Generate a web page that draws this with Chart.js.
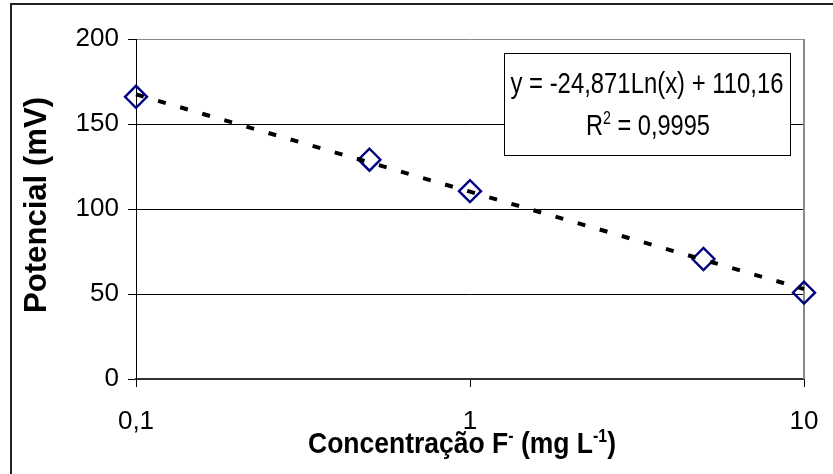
<!DOCTYPE html>
<html>
<head>
<meta charset="utf-8">
<script src="https://cdn.jsdelivr.net/npm/chart.js@4.4.1/dist/chart.umd.min.js"></script>
<style>
  html, body { margin: 0; padding: 0; background: #fff; }
  #wrap { width: 833px; height: 474px; }
</style>
</head>
<body>
<div id="wrap"><canvas id="c" width="833" height="474"></canvas></div>
<script>
// ---- data ----
const concentrations = [0.1, 0.5, 1, 5, 10];          // mg L-1 (F-)
const potentials     = [166, 129, 110.5, 70.6, 50.8]; // mV
const trendX = [0.1, 10];
const trendY = [167.4, 52.9];                         // logarithmic trend line ends
const xTickValues = [0.1, 1, 10];
const yTickValues = [0, 50, 100, 150, 200];
const equationText = "y = -24,871Ln(x) + 110,16";
const r2Text = "0,9995";
const xTitleParts = [{t: "Concentração F"}, {t: "-", sup: true}, {t: " (mg L"}, {t: "-1", sup: true}, {t: ")"}];
const yTitleText = "Potencial (mV)";

const SANS = "'Liberation Sans', Arial, sans-serif";

function drawParts(ctx, parts, size, weight) {
  let x = 0;
  for (const p of parts) {
    const s = p.sup ? Math.round(size * 0.6) : size;
    ctx.font = weight + " " + s + "px " + SANS;
    const w = ctx.measureText(p.t).width;
    ctx.fillText(p.t, x, p.sup ? -size * 0.38 : 0);
    x += w;
  }
  return x;
}
function measureParts(ctx, parts, size, weight) {
  let x = 0;
  for (const p of parts) {
    const s = p.sup ? Math.round(size * 0.6) : size;
    ctx.font = weight + " " + s + "px " + SANS;
    x += ctx.measureText(p.t).width;
  }
  return x;
}
function drawFitted(ctx, parts, size, weight, cx, baseline, targetW) {
  const w = measureParts(ctx, parts, size, weight);
  const k = targetW / w;
  ctx.save();
  ctx.translate(cx - targetW / 2, baseline);
  ctx.scale(k, 1);
  ctx.fillStyle = "#000";
  ctx.textBaseline = "alphabetic";
  ctx.textAlign = "left";
  drawParts(ctx, parts, size, weight);
  ctx.restore();
}

const decor = {
  id: "decor",
  beforeDraw(chart) {
    const ctx = chart.ctx;
    ctx.save();
    ctx.fillStyle = "#fff";
    ctx.fillRect(0, 0, chart.width, chart.height);
    ctx.strokeStyle = "#222";
    ctx.lineWidth = 2;
    ctx.beginPath();
    ctx.moveTo(11, chart.height + 2);
    ctx.lineTo(11, 4);
    ctx.lineTo(chart.width + 2, 4);
    ctx.stroke();
    ctx.restore();
  },
  beforeDatasetsDraw(chart) {
    const ctx = chart.ctx;
    const a = chart.chartArea;
    ctx.save();
    ctx.strokeStyle = "#8a8a8a";
    ctx.lineWidth = 2;
    ctx.beginPath();
    ctx.moveTo(a.right, a.top);
    ctx.lineTo(a.right, a.bottom);
    ctx.stroke();
    ctx.restore();
  },
  afterDraw(chart) {
    const ctx = chart.ctx;
    ctx.save();
    ctx.fillStyle = "#fff";
    ctx.fillRect(504, 53, 286, 102);
    ctx.strokeStyle = "#000";
    ctx.lineWidth = 1;
    ctx.strokeRect(504.5, 53.5, 286, 102);
    ctx.restore();
    drawFitted(ctx, [{t: equationText}], 30, "normal", 647, 93, 273);
    drawFitted(ctx, [{t: "R"}, {t: "2", sup: true}, {t: " = " + r2Text}], 30, "normal", 648, 135, 124);

    drawFitted(ctx, xTitleParts, 30, "bold", 462, 453, 308);

    ctx.save();
    ctx.translate(46, 205);
    ctx.rotate(-Math.PI / 2);
    const w = measureParts(ctx, [{t: yTitleText}], 31, "bold");
    const k = 216 / w;
    ctx.scale(k, 1);
    ctx.translate(-w / 2, 0);
    ctx.fillStyle = "#000";
    ctx.textBaseline = "alphabetic";
    drawParts(ctx, [{t: yTitleText}], 31, "bold");
    ctx.restore();
  }
};

new Chart(document.getElementById("c"), {
  type: "scatter",
  data: {
    datasets: [
      {
        label: "Pontos",
        data: concentrations.map((x, i) => ({x, y: potentials[i]})),
        pointStyle: "rectRot",
        pointRadius: 11,
        pointHoverRadius: 11,
        pointBorderWidth: 2.4,
        borderColor: "#000080",
        backgroundColor: "rgba(0,0,0,0)",
        showLine: false,
        clip: false,
        order: 2
      },
      {
        label: "Tendência",
        data: trendX.map((x, i) => ({x, y: trendY[i]})),
        showLine: true,
        borderColor: "#000",
        borderWidth: 4,
        borderDash: [8, 15],
        pointRadius: 0,
        fill: false,
        clip: false,
        order: 1
      }
    ]
  },
  options: {
    responsive: false,
    animation: false,
    devicePixelRatio: 1,
    layout: { padding: { left: 0, right: 29, top: 39, bottom: 0 } },
    plugins: { legend: { display: false }, tooltip: { enabled: false } },
    scales: {
      x: {
        type: "logarithmic",
        min: 0.1,
        max: 10,
        afterBuildTicks(scale) { scale.ticks = xTickValues.map(v => ({value: v})); },
        afterFit(scale) { scale.height = 95; scale.paddingRight = 0; scale.paddingLeft = 0; },
        ticks: {
          autoSkip: false,
          maxRotation: 0,
          padding: 19,
          color: "#000",
          font: { family: SANS, size: 26 },
          callback: (v) => String(v).replace(".", ",")
        },
        grid: { drawOnChartArea: false, tickLength: 8, color: "#000", lineWidth: 1 },
        border: { color: "#333", width: 2 }
      },
      y: {
        min: 0,
        max: 200,
        afterBuildTicks(scale) { scale.ticks = yTickValues.map(v => ({value: v})); },
        afterFit(scale) { scale.width = 136; scale.paddingTop = 0; scale.paddingBottom = 0; },
        ticks: {
          padding: 9,
          color: "#000",
          font: { family: SANS, size: 26 },
          callback: (v) => String(v)
        },
        grid: {
          tickLength: 8,
          lineWidth: 1,
          color: (c) => (c.tick && c.tick.value === 200 ? "#8a8a8a" : "#000"),
          tickColor: "#000"
        },
        border: { color: "#000", width: 1 }
      }
    }
  },
  plugins: [decor]
});
</script>
</body>
</html>
